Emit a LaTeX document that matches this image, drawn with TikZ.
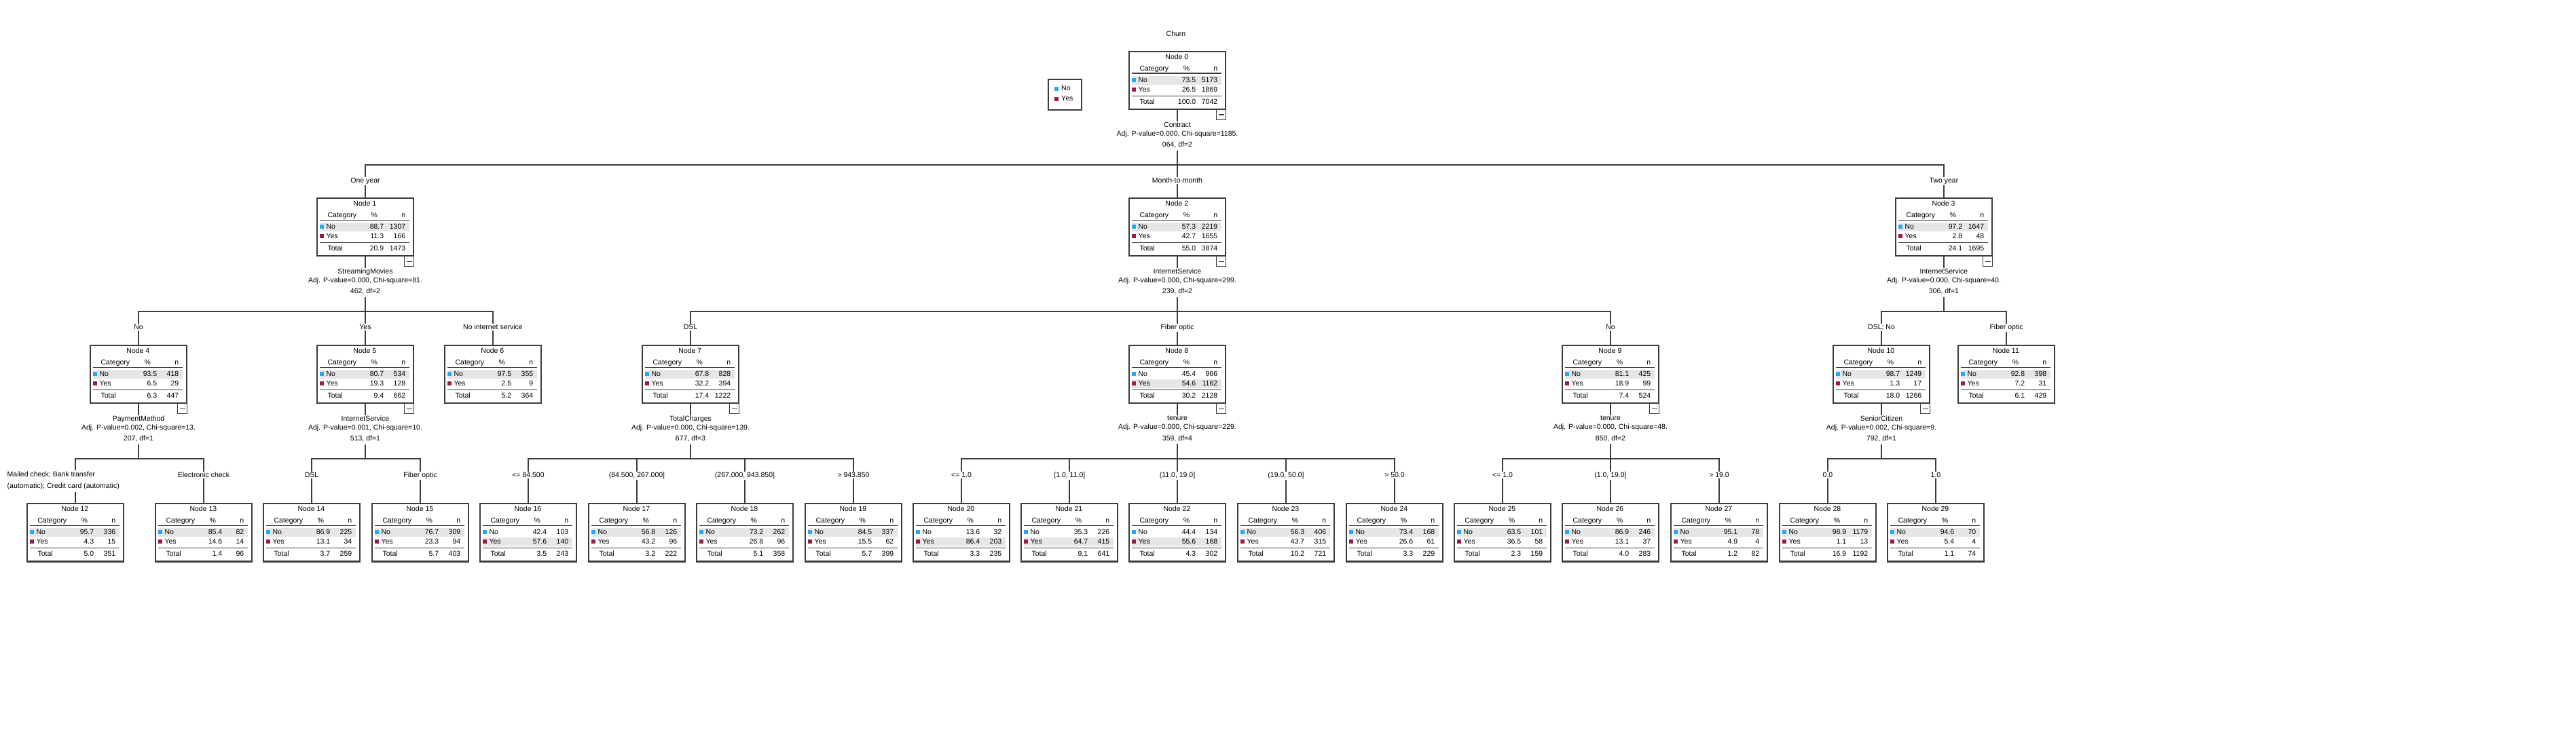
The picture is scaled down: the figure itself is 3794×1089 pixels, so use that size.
\documentclass[tikz,border=0pt]{standalone}
\usepackage{fontspec}
\setmainfont{Liberation Sans}
\usetikzlibrary{positioning, calc}

\definecolor{noblue}{RGB}{38,168,245}
\definecolor{yesred}{RGB}{160,22,78}
\definecolor{rowgray}{RGB}{230,230,230}
\definecolor{edgegray}{RGB}{60,60,60}

% box contents: #1 node, #2 title, #3-#4 No, #5-#6 Yes, #7-#8 Total, #9 shaded row (0 = No, 14 = Yes)
\newcommand{\cattable}[9]{%
  \fill[rowgray] ($(#1.north west)+(5,37+#9)$) rectangle ++(132,13);
  \node[cell] at ($(#1.north west)+(71,9)$) {#2};
  \node[cell, anchor=mid west] at ($(#1.north west)+(16,26)$) {Category};
  \node[cell] at ($(#1.north west)+(85,26)$) {\%};
  \node[cell, anchor=mid east] at ($(#1.north west)+(131,26)$) {n};
  \draw[edgegray, line width=1.8pt] ($(#1.north west)+(5,33)$) -- ++(132,0);
  \fill[noblue] ($(#1.north west)+(5,40)$) rectangle ++(6,6);
  \node[cell, anchor=mid west] at ($(#1.north west)+(14,43)$) {No};
  \node[cell, anchor=mid east] at ($(#1.north west)+(99,43)$) {#3};
  \node[cell, anchor=mid east] at ($(#1.north west)+(131,43)$) {#4};
  \fill[yesred] ($(#1.north west)+(5,54)$) rectangle ++(6,6);
  \node[cell, anchor=mid west] at ($(#1.north west)+(14,57)$) {Yes};
  \node[cell, anchor=mid east] at ($(#1.north west)+(99,57)$) {#5};
  \node[cell, anchor=mid east] at ($(#1.north west)+(131,57)$) {#6};
  \draw[edgegray, line width=1.2pt] ($(#1.north west)+(5,66)$) -- ++(132,0);
  \node[cell, anchor=mid west] at ($(#1.north west)+(16,75)$) {Total};
  \node[cell, anchor=mid east] at ($(#1.north west)+(99,75)$) {#7};
  \node[cell, anchor=mid east] at ($(#1.north west)+(131,75)$) {#8};
}
% small [-] box under a node that is split
\newcommand{\collapse}[1]{%
  \draw[edgegray, line width=1pt, fill=white] (#1.south east) rectangle ++(-14,15);
  \draw[edgegray, line width=1.2pt] ($(#1.south east)+(-11,7.5)$) -- ++(8,0);
}

\begin{document}
\begin{tikzpicture}[x=1pt, y=-1pt, font=\fontsize{10.5}{13}\selectfont,
    catbox/.style = {draw=edgegray, line width=1.2pt, minimum width=142pt,
      minimum height=85pt, inner sep=0pt},
    cell/.style = {inner sep=0pt, anchor=mid},
    link/.style = {edgegray, line width=1.3pt},
    split/.style = {fill=white, align=center, inner sep=1pt,
      execute at begin node=\strut},
    elabel/.style = {fill=white, inner sep=1.5pt, anchor=mid}]

      \useasboundingbox (0,0) rectangle (3794,1089);

      % --- Title and legend ---
      \node[cell] (title) at (1732,51) {Churn};
      \node[draw=edgegray, line width=1.2pt, minimum width=49pt,
        minimum height=45pt, inner sep=0pt] (legend) at (1568.5,139.5) {};
      \fill[noblue] (1553,128) rectangle ++(6,6);
      \node[cell, anchor=mid west] at (1563,131) {No};
      \fill[yesred] (1553,143) rectangle ++(6,6);
      \node[cell, anchor=mid west] at (1563,146) {Yes};

      % --- Nodes ---
      \node[catbox] (n0) at (1734,118.5) {};
      \cattable{n0}{Node 0}{73.5}{5173}{26.5}{1869}{100.0}{7042}{0}

      \node[catbox] (n1) at (538,334.5) {};
      \cattable{n1}{Node 1}{88.7}{1307}{11.3}{166}{20.9}{1473}{0}
      \node[catbox] (n2) at (1734,334.5) {};
      \cattable{n2}{Node 2}{57.3}{2219}{42.7}{1655}{55.0}{3874}{0}
      \node[catbox] (n3) at (2863,334.5) {};
      \cattable{n3}{Node 3}{97.2}{1647}{2.8}{48}{24.1}{1695}{0}

      \node[catbox] (n4) at (204,551.5) {};
      \cattable{n4}{Node 4}{93.5}{418}{6.5}{29}{6.3}{447}{0}
      \node[catbox] (n5) at (538,551.5) {};
      \cattable{n5}{Node 5}{80.7}{534}{19.3}{128}{9.4}{662}{0}
      \node[catbox] (n6) at (726,551.5) {};
      \cattable{n6}{Node 6}{97.5}{355}{2.5}{9}{5.2}{364}{0}
      \node[catbox] (n7) at (1017,551.5) {};
      \cattable{n7}{Node 7}{67.8}{828}{32.2}{394}{17.4}{1222}{0}
      \node[catbox] (n8) at (1734,551.5) {};
      \cattable{n8}{Node 8}{45.4}{966}{54.6}{1162}{30.2}{2128}{14}
      \node[catbox] (n9) at (2372,551.5) {};
      \cattable{n9}{Node 9}{81.1}{425}{18.9}{99}{7.4}{524}{0}
      \node[catbox] (n10) at (2771,551.5) {};
      \cattable{n10}{Node 10}{98.7}{1249}{1.3}{17}{18.0}{1266}{0}
      \node[catbox] (n11) at (2955,551.5) {};
      \cattable{n11}{Node 11}{92.8}{398}{7.2}{31}{6.1}{429}{0}

      \node[catbox] (n12) at (111,784.5) {};
      \cattable{n12}{Node 12}{95.7}{336}{4.3}{15}{5.0}{351}{0}
      \node[catbox] (n13) at (300,784.5) {};
      \cattable{n13}{Node 13}{85.4}{82}{14.6}{14}{1.4}{96}{0}
      \node[catbox] (n14) at (459,784.5) {};
      \cattable{n14}{Node 14}{86.9}{225}{13.1}{34}{3.7}{259}{0}
      \node[catbox] (n15) at (619,784.5) {};
      \cattable{n15}{Node 15}{76.7}{309}{23.3}{94}{5.7}{403}{0}
      \node[catbox] (n16) at (778,784.5) {};
      \cattable{n16}{Node 16}{42.4}{103}{57.6}{140}{3.5}{243}{14}
      \node[catbox] (n17) at (938,784.5) {};
      \cattable{n17}{Node 17}{56.8}{126}{43.2}{96}{3.2}{222}{0}
      \node[catbox] (n18) at (1097,784.5) {};
      \cattable{n18}{Node 18}{73.2}{262}{26.8}{96}{5.1}{358}{0}
      \node[catbox] (n19) at (1257,784.5) {};
      \cattable{n19}{Node 19}{84.5}{337}{15.5}{62}{5.7}{399}{0}
      \node[catbox] (n20) at (1416,784.5) {};
      \cattable{n20}{Node 20}{13.6}{32}{86.4}{203}{3.3}{235}{14}
      \node[catbox] (n21) at (1575,784.5) {};
      \cattable{n21}{Node 21}{35.3}{226}{64.7}{415}{9.1}{641}{14}
      \node[catbox] (n22) at (1734,784.5) {};
      \cattable{n22}{Node 22}{44.4}{134}{55.6}{168}{4.3}{302}{14}
      \node[catbox] (n23) at (1894,784.5) {};
      \cattable{n23}{Node 23}{56.3}{406}{43.7}{315}{10.2}{721}{0}
      \node[catbox] (n24) at (2054,784.5) {};
      \cattable{n24}{Node 24}{73.4}{168}{26.6}{61}{3.3}{229}{0}
      \node[catbox] (n25) at (2213,784.5) {};
      \cattable{n25}{Node 25}{63.5}{101}{36.5}{58}{2.3}{159}{0}
      \node[catbox] (n26) at (2372,784.5) {};
      \cattable{n26}{Node 26}{86.9}{246}{13.1}{37}{4.0}{283}{0}
      \node[catbox] (n27) at (2532,784.5) {};
      \cattable{n27}{Node 27}{95.1}{78}{4.9}{4}{1.2}{82}{0}
      \node[catbox] (n28) at (2692,784.5) {};
      \cattable{n28}{Node 28}{98.9}{1179}{1.1}{13}{16.9}{1192}{0}
      \node[catbox] (n29) at (2851,784.5) {};
      \cattable{n29}{Node 29}{94.6}{70}{5.4}{4}{1.1}{74}{0}

      % heavier lower edge on the last row
      \foreach \k in {12,...,29} {
        \draw[edgegray, line width=2.4pt] (n\k.south west) -- (n\k.south east);
      }

      % --- Connectors ---
      \coordinate (b0) at (1734,243);
      \coordinate (b1) at (538,459);
      \coordinate (b2) at (1734,459);
      \coordinate (b3) at (2863,459);
      \coordinate (b4) at (204,676);
      \coordinate (b5) at (538,676);
      \coordinate (b7) at (1017,676);
      \coordinate (b8) at (1734,676);
      \coordinate (b9) at (2372,676);
      \coordinate (b10) at (2771,676);

      \draw[link] (n0) -- (b0) -| (n1) (b0) -| (n3) (b0) -- (n2);
      \draw[link] (n1) -- (b1) -| (n4) (b1) -| (n6) (b1) -- (n5);
      \draw[link] (n2) -- (b2) -| (n7) (b2) -| (n9) (b2) -- (n8);
      \draw[link] (n3) -- (b3) -| (n10) (b3) -| (n11);
      \draw[link] (n4) -- (b4) -| (n12) (b4) -| (n13);
      \draw[link] (n5) -- (b5) -| (n14) (b5) -| (n15);
      \draw[link] (n7) -- (b7) -| (n16) (b7) -| (n17) (b7) -| (n18) (b7) -| (n19);
      \draw[link] (n8) -- (b8) -| (n20) (b8) -| (n21) (b8) -| (n23) (b8) -| (n24) (b8) -- (n22);
      \draw[link] (n9) -- (b9) -| (n25) (b9) -| (n27) (b9) -- (n26);
      \draw[link] (n10) -- (b10) -| (n28) (b10) -| (n29);

      \foreach \k in {0,1,2,3,4,5,7,8,9,10} {
        \collapse{n\k}
      }

      % --- Split variables ---
      \node[split, below=17pt of n0] (s0) {Contract\\Adj. P-value=0.000, Chi-square=1185.\\[3.5pt]064, df=2};
      \node[split, below=17pt of n1] (s1) {StreamingMovies\\Adj. P-value=0.000, Chi-square=81.\\[3.5pt]462, df=2};
      \node[split, below=17pt of n2] (s2) {InternetService\\Adj. P-value=0.000, Chi-square=299.\\[3.5pt]239, df=2};
      \node[split, below=17pt of n3] (s3) {InternetService\\Adj. P-value=0.000, Chi-square=40.\\[3.5pt]306, df=1};
      \node[split, below=17pt of n4] (s4) {PaymentMethod\\Adj. P-value=0.002, Chi-square=13.\\[3.5pt]207, df=1};
      \node[split, below=17pt of n5] (s5) {InternetService\\Adj. P-value=0.001, Chi-square=10.\\[3.5pt]513, df=1};
      \node[split, below=17pt of n7] (s7) {TotalCharges\\Adj. P-value=0.000, Chi-square=139.\\[3.5pt]677, df=3};
      \node[split, below=17pt of n8] (s8) {tenure\\Adj. P-value=0.000, Chi-square=229.\\[3.5pt]359, df=4};
      \node[split, below=17pt of n9] (s9) {tenure\\Adj. P-value=0.000, Chi-square=48.\\[3.5pt]850, df=2};
      \node[split, below=17pt of n10] (s10) {SeniorCitizen\\Adj. P-value=0.002, Chi-square=9.\\[3.5pt]792, df=1};

      % --- Branch labels ---
      \node[elabel] (l1) at (538,267) {One year};
      \node[elabel] (l2) at (1734,267) {Month-to-month};
      \node[elabel] (l3) at (2863,267) {Two year};

      \node[elabel] (l4) at (204,483) {No};
      \node[elabel] (l5) at (538,483) {Yes};
      \node[elabel] (l6) at (726,483) {No internet service};
      \node[elabel] (l7) at (1017,483) {DSL};
      \node[elabel] (l8) at (1734,483) {Fiber optic};
      \node[elabel] (l9) at (2372,483) {No};
      \node[elabel] (l10) at (2771,483) {DSL; No};
      \node[elabel] (l11) at (2955,483) {Fiber optic};

      \node[elabel, anchor=north west, align=left, execute at begin node=\strut]
        (l12) at (9,693) {Mailed check; Bank transfer\\[4pt](automatic); Credit card (automatic)};
      \node[elabel] (l13) at (300,701) {Electronic check};
      \node[elabel] (l14) at (459,701) {DSL};
      \node[elabel] (l15) at (619,701) {Fiber optic};
      \node[elabel] (l16) at (778,701) {<= 84.500};
      \node[elabel] (l17) at (938,701) {(84.500, 267.000]};
      \node[elabel] (l18) at (1097,701) {(267.000, 943.850]};
      \node[elabel] (l19) at (1257,701) {> 943.850};
      \node[elabel] (l20) at (1416,701) {<= 1.0};
      \node[elabel] (l21) at (1575,701) {(1.0, 11.0]};
      \node[elabel] (l22) at (1734,701) {(11.0, 19.0]};
      \node[elabel] (l23) at (1894,701) {(19.0, 50.0]};
      \node[elabel] (l24) at (2054,701) {> 50.0};
      \node[elabel] (l25) at (2213,701) {<= 1.0};
      \node[elabel] (l26) at (2372,701) {(1.0, 19.0]};
      \node[elabel] (l27) at (2532,701) {> 19.0};
      \node[elabel] (l28) at (2692,701) {0.0};
      \node[elabel] (l29) at (2851,701) {1.0};

    \end{tikzpicture}
\end{document}
